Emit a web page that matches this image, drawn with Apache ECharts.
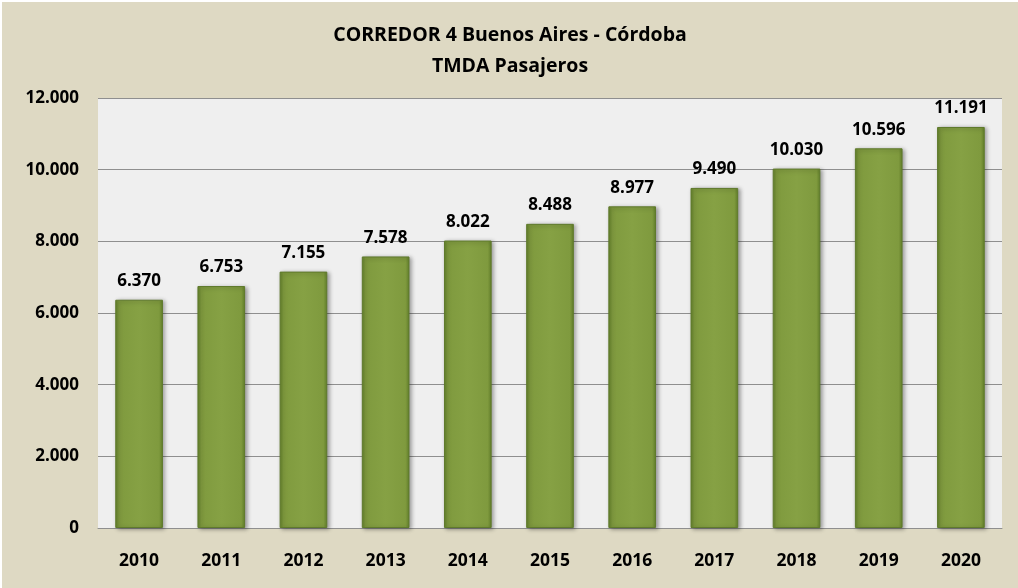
<!DOCTYPE html>
<html lang="es">
<head>
  <meta charset="UTF-8">
  <title>CORREDOR 4 Buenos Aires - Córdoba</title>
  <script src="https://cdn.jsdelivr.net/npm/echarts@6/dist/echarts.min.js"></script>
  <style>
    body { margin: 0; background: #ffffff; }
    #main { position: absolute; left: 2px; top: 2px; width: 1016px; height: 586px; }
  </style>
</head>
<body>
<div id="main"></div>
<script>
  // datos del gráfico
  var years = ['2010', '2011', '2012', '2013', '2014', '2015', '2016', '2017', '2018', '2019', '2020'];
  var tmda = [6370, 6753, 7155, 7578, 8022, 8488, 8977, 9490, 10030, 10596, 11191];

  // 12000 -> "12.000"
  function fmt(v) {
    return String(v).replace(/\B(?=(\d{3})+(?!\d))/g, '.');
  }

  var font = '"Open Sans", "Noto Sans", sans-serif';
  var myChart = echarts.init(document.getElementById('main'));

  myChart.setOption({
    backgroundColor: '#ded9c3',
    title: {
      text: 'CORREDOR 4 Buenos Aires - Córdoba\nTMDA Pasajeros',
      left: 'center',
      top: 13,
      textStyle: { fontFamily: font, fontSize: 19.5, fontWeight: 'bold', color: '#000', lineHeight: 31 }
    },
    grid: { left: 96, top: 96, right: 16, bottom: 60, show: true, backgroundColor: '#efefef', borderWidth: 0 },
    xAxis: {
      type: 'category',
      data: years,
      axisTick: { show: false },
      axisLine: { lineStyle: { color: '#8f8f8f', width: 1 } },
      axisLabel: { fontFamily: font, fontSize: 17.5, fontWeight: 'bold', color: '#000', margin: 24 }
    },
    yAxis: {
      type: 'value',
      min: 0,
      max: 12000,
      interval: 2000,
      axisLine: { show: false },
      axisTick: { show: false },
      splitLine: { lineStyle: { color: '#8f8f8f', width: 1 } },
      axisLabel: { fontFamily: font, fontSize: 17, fontWeight: 'bold', color: '#000', margin: 19, formatter: fmt }
    },
    series: [{
      type: 'bar',
      data: tmda,
      barWidth: '58%',
      itemStyle: {
        color: new echarts.graphic.LinearGradient(0, 0, 1, 0, [
          { offset: 0, color: '#62802a' },
          { offset: 0.08, color: '#7f9a3e' },
          { offset: 0.5, color: '#86a144' },
          { offset: 0.92, color: '#7f9a3e' },
          { offset: 1, color: '#62802a' }
        ]),
        borderColor: '#5f7a2c',
        borderWidth: 1,
        shadowColor: 'rgba(0,0,0,0.35)',
        shadowBlur: 4,
        shadowOffsetX: 2,
        shadowOffsetY: 1
      },
      label: {
        show: true,
        position: 'top',
        distance: 10,
        fontFamily: font,
        fontSize: 17,
        fontWeight: 'bold',
        color: '#000',
        formatter: function (p) { return fmt(p.value); }
      }
    }]
  });
</script>
</body>
</html>
